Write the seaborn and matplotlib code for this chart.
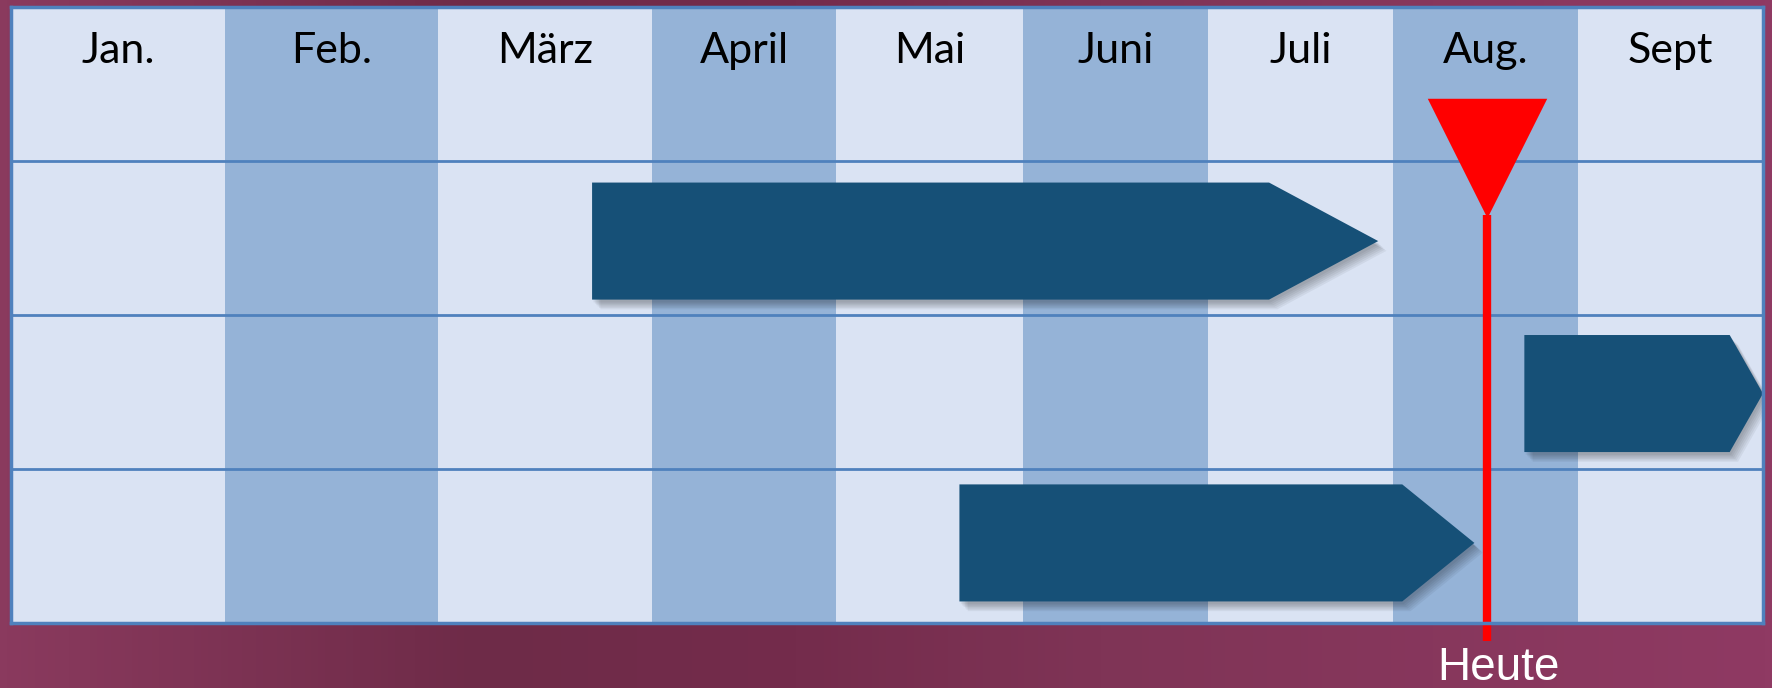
import numpy as np
import matplotlib
matplotlib.use('Agg')
import matplotlib.pyplot as plt
import matplotlib.patheffects as pe
from matplotlib.colors import LinearSegmentedColormap
import seaborn as sns

# data: months, tasks (in month units, Jan = 0) and today
months = ['Jan.', 'Feb.', 'März', 'April', 'Mai', 'Juni', 'Juli', 'Aug.', 'Sept']
task_row = [1.52, 2.51, 3.48]
task_start = [2.72, 7.71, 4.66]
task_end = [6.33, 8.82, 7.05]
task_tip = [6.92, 9.0, 7.44]
today = 7.51

# layout / style
col_width = [214, 213, 214, 184, 187, 185, 185, 185, 185]   # column widths in px
bar_h = 0.76
light, dark = '#DAE3F3', '#95B3D7'
grid_col = '#4F81BD'
bar_col = '#165077'

sns.set_style('white')
plt.rcParams['font.family'] = ['Lato', 'DejaVu Sans']

fig = plt.figure(figsize=(17.72, 6.88), dpi=100)

# purple slide background
bg = fig.add_axes([0, 0, 1, 1], zorder=0)
cmap = LinearSegmentedColormap.from_list('bg', [
    (0.0, '#8A3A5E'), (0.27, '#6E2B48'), (0.45, '#742C4C'),
    (0.62, '#7F3456'), (1.0, '#8F3A63')])
bg.imshow(np.linspace(0, 1, 256)[None, :], cmap=cmap, aspect='auto',
          extent=[0, 1, 0, 1])
bg.set_axis_off()

W, H = 1772, 688
ax = fig.add_axes([11 / W, (H - 623) / H, 1752 / W, 616 / H], zorder=1)

# uneven month columns through a function scale
edges_m = np.arange(len(months) + 1)
edges_f = np.concatenate([[0], np.cumsum(col_width)]) / sum(col_width)
ax.set_xscale('function', functions=(lambda x: np.interp(x, edges_m, edges_f),
                                     lambda x: np.interp(x, edges_f, edges_m)))
ax.set_xlim(0, len(months))
ax.set_ylim(4, 0)

for i, m in enumerate(months):
    ax.axvspan(i, i + 1, color=light if i % 2 == 0 else dark, lw=0, zorder=0)
    ax.text(i + 0.5, 0.362, m, ha='center', va='baseline', fontsize=31,
            color='black', zorder=3)

for y in [1, 2, 3]:
    ax.axhline(y, color=grid_col, lw=2, zorder=1)

# task chevrons, soft shadow
shadow = [pe.SimplePatchShadow(offset=(1 + k, -2 - k), alpha=0.05,
                               shadow_rgbFace='black') for k in range(6)]
for y, s, e, t in zip(task_row, task_start, task_end, task_tip):
    xs = [s, e, t, e, s]
    ys = [y - bar_h / 2, y - bar_h / 2, y, y + bar_h / 2, y + bar_h / 2]
    ax.fill(xs, ys, color=bar_col, lw=0, zorder=2,
            path_effects=shadow + [pe.Normal()])

# today marker
ax.plot([today, today], [1.35, 4.12], color='red', lw=6, zorder=4,
        clip_on=False, solid_capstyle='butt')
sns.scatterplot(x=[today], y=[0.98], marker='v', s=86 ** 2, color='red',
                linewidth=0, ax=ax, zorder=5, clip_on=False)
ax.text(today + 0.06, 4.37, 'Heute', ha='center', va='baseline', fontsize=33,
        color='white', family=['Liberation Sans', 'DejaVu Sans'],
        clip_on=False, zorder=5)

ax.set_xticks([])
ax.set_yticks([])
ax.set_xlabel('')
ax.set_ylabel('')
for sp in ax.spines.values():
    sp.set_color(grid_col)
    sp.set_linewidth(2.5)
    sp.set_zorder(6)

fig.savefig('out.png', dpi=100)
